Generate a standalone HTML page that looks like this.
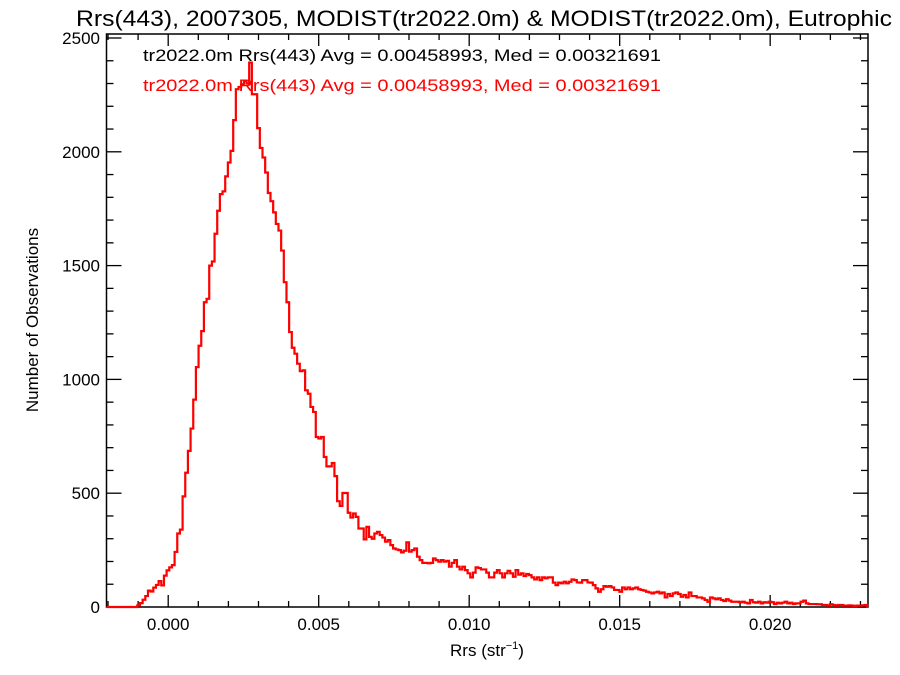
<!DOCTYPE html>
<html><head><meta charset="utf-8"><style>
html,body{margin:0;padding:0;background:#fff;}
svg{display:block;font-family:"Liberation Sans",Arial,sans-serif;}
</style></head><body>
<svg id="chart" width="900" height="675" viewBox="0 0 900 675" xmlns="http://www.w3.org/2000/svg">
<rect width="900" height="675" fill="#fff"/>
<text x="484" y="26" font-size="22" text-anchor="middle" textLength="816" lengthAdjust="spacingAndGlyphs">Rrs(443), 2007305, MODIST(tr2022.0m) &amp; MODIST(tr2022.0m), Eutrophic</text>
<g id="axes"></g>
<path id="hist" fill="none" stroke="#ff0000" stroke-width="2.2"/>
<text x="143" y="61" font-size="17" textLength="518" lengthAdjust="spacingAndGlyphs">tr2022.0m Rrs(443) Avg = 0.00458993, Med = 0.00321691</text>
<text x="143" y="91" font-size="17" fill="#ff0000" textLength="518" lengthAdjust="spacingAndGlyphs">tr2022.0m Rrs(443) Avg = 0.00458993, Med = 0.00321691</text>
<text x="487" y="656" font-size="17" text-anchor="middle">Rrs (str<tspan font-size="11" dy="-7">−1</tspan><tspan dy="7">)</tspan></text>
<text x="0" y="0" font-size="17" text-anchor="middle" transform="translate(38,320) rotate(-90)">Number of Observations</text>
</svg>
<script>
const counts = [0,0,0,0,0,0,0,0,0,0,0,
7,17,32,48,72,68,85,97,114,95,138,161,174,184,242,323,340,486,590,686,784,911,1054,1148,1212,1339,1354,1500,1518,1640,1741,1814,1826,1892,1953,2004,2139,2275,2285,2297,2311,2300,2392,
2253,2253,2104,2017,1975,1909,1819,1783,1734,1683,1654,1566,1427,1339,1208,1139,1113,1069,1036,
1040,952,937,879,857,747,740,747,659,618,618,633,575,465,444,501,501,414,393,411,396,345,345,297,352,308,300,323,330,316,305,287,294,272,257,253,250,240,247,284,243,250,257,221,206,194,194,192,194,213,206,199,206,199,203,177,194,206,177,165,177,162,148,130,151,174,171,165,165,151,130,130,151,162,148,130,148,159,148,133,162,142,148,136,145,140,130,121,130,118,130,126,130,130,107,96,107,104,111,104,111,121,118,108,107,118,118,108,107,96,82,67,
78,92,89,92,86,75,75,67,86,78,86,78,82,86,78,75,72,67,64,60,64,67,60,64,42,57,48,60,64,57,45,53,42,64,48,48,42,42,38,31,23,42,38,34,38,31,26,34,28,23,23,23,21,23,19,16,31,21,19,23,16,21,19,23,21,13,19,16,19,23,16,19,13,16,16,23,28,16,13,13,13,12,12,9,9,6,12,9,6,9,9,6,6,7,6,4,6,6,7,9,1];
const binStart = -0.002;
const binWidth = 0.0000885;
const xTickValues = [0, 0.005, 0.010, 0.015, 0.020];
const xTickLabels = ["0.000","0.005","0.010","0.015","0.020"];
const yTickValues = [0, 500, 1000, 1500, 2000, 2500];
const yTickLabels = ["0","500","1000","1500","2000","2500"];

const L=106.5, R=868, T=34, B=607;
const xMin=-0.00205, xMax=0.02325, yZeroPx=607, yTopPx=38, yTop=2500;
function xs(v){return L+(v-xMin)/(xMax-xMin)*(R-L);}
function ys(v){return yZeroPx-(v/yTop)*(yZeroPx-yTopPx);}
const NS="http://www.w3.org/2000/svg";
const ax=document.getElementById('axes');
function line(x1,y1,x2,y2,name){
  const l=document.createElementNS(NS,'line');
  l.setAttribute('x1',x1);l.setAttribute('y1',y1);l.setAttribute('x2',x2);l.setAttribute('y2',y2);
  l.setAttribute('stroke','#000');l.setAttribute('stroke-width','1.3');
  
  
  ax.appendChild(l);
}
function text(x,y,s,anchor,name){
  const t=document.createElementNS(NS,'text');
  t.setAttribute('x',x);t.setAttribute('y',y);t.setAttribute('font-size','17');t.setAttribute('text-anchor',anchor);
  t.textContent=s;
  
  
  ax.appendChild(t);
}
const fr=document.createElementNS(NS,'rect');
fr.setAttribute('x',L);fr.setAttribute('y',T);fr.setAttribute('width',R-L);fr.setAttribute('height',B-T);
fr.setAttribute('fill','none');fr.setAttribute('stroke','#000');fr.setAttribute('stroke-width','1.5');


ax.appendChild(fr);
// x minor ticks
for(let k=-2;k<=23;k++){
  const v=k*0.001, px=xs(v);
  if(px<L||px>R) continue;
  const major = k%5===0;
  const len = major?12:6;
  line(px,B,px,B-len,'x-tick');
  line(px,T,px,T+len,'x-tick-top');
}
xTickValues.forEach((v,i)=>text(xs(v),630,xTickLabels[i],'middle','x-tick-label'));
for(let v=0;v<=2500;v+=100){
  const py=ys(v), major=v%500===0, len=major?15:7;
  line(L,py,L+len,py,'y-tick');
  line(R,py,R-len,py,'y-tick-right');
}
yTickValues.forEach((v,i)=>text(100,ys(v)+6,yTickLabels[i],'end','y-tick-label'));
// histogram
let d='M'+L+','+ys(0);
counts.forEach((c,i)=>{
  let x0=xs(binStart+i*binWidth), x1=xs(binStart+(i+1)*binWidth);
  x0=Math.max(L,x0); x1=Math.min(R,x1);
  if(x1<=x0) return;
  d+=' L'+x0.toFixed(2)+','+ys(c).toFixed(2)+' L'+x1.toFixed(2)+','+ys(c).toFixed(2);
});
document.getElementById('hist').setAttribute('d',d);
</script>
</body></html>
